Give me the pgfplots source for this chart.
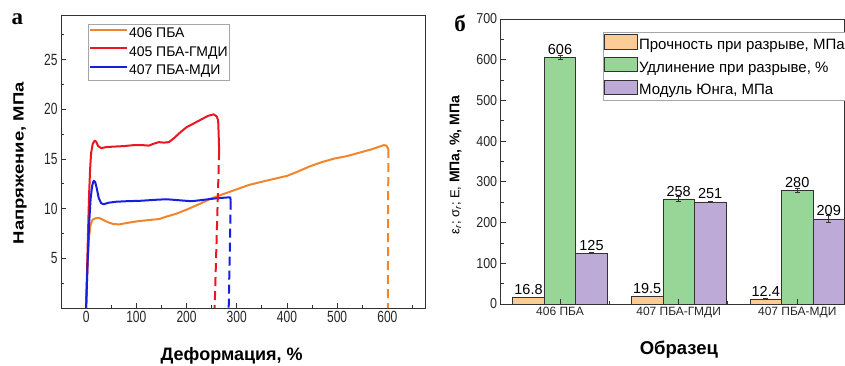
\documentclass[border=0pt]{standalone}
\usepackage{pgfplots}
\pgfplotsset{compat=1.18}
\usepackage{pgfplotstable}
\usepackage{fontspec}
\setmainfont{Liberation Sans}
\newfontfamily\serifbf{Liberation Serif}
\usepackage{graphicx}

\definecolor{cOr}{RGB}{242,133,44}
\definecolor{cRed}{RGB}{236,22,32}
\definecolor{cBlue}{RGB}{22,30,226}
\definecolor{bOr}{RGB}{253,203,150}
\definecolor{bGr}{RGB}{152,214,152}
\definecolor{bPu}{RGB}{190,170,214}
\definecolor{frm}{RGB}{50,50,50}

\pgfplotstableread{
x y e lab
0 16.8 0.4 16.8
1 19.5 0.4 19.5
2 12.4 0.4 12.4
}\tOr
\pgfplotstableread{
x y e lab
0 606 4 606
1 258 6 258
2 280 5 280
}\tGr
\pgfplotstableread{
x y e lab
0 125 1 125
1 251 2 251
2 209 8 209
}\tPu

\begin{document}
\begin{tikzpicture}
\useasboundingbox (0,0) rectangle (845pt,365pt);

\node[anchor=base, font=\serifbf\bfseries\fontsize{23}{23}\selectfont] at (17.5pt,340pt) {а};
\node[anchor=base, font=\serifbf\bfseries\fontsize{23}{23}\selectfont] at (460pt,333pt) {б};

% ---------------- left panel
\begin{axis}[
  at={(61pt,57pt)}, anchor=south west,
  scale only axis, width=364pt, height=293pt,
  xmin=-50, xmax=675, ymin=0, ymax=29.5,
  axis line style={frm, line width=0.9pt},
  xtick={0,100,...,600}, minor xtick={-50,50,...,650},
  ytick={5,10,15,20,25}, minor ytick={2.5,7.5,...,27.5},
  tick pos=left, tick align=inside,
  major tick length=5pt, minor tick length=3pt,
  tick style={frm, line width=0.8pt},
  /pgf/number format/assume math mode=true,
  xticklabel={\scalebox{1}[1.35]{\pgfmathprintnumber{\tick}}},
  yticklabel={\scalebox{1}[1.35]{\pgfmathprintnumber{\tick}}},
  tick label style={font=\fontsize{12}{12}\selectfont, text=black!85},
  xlabel={Деформация, \%},
  xlabel style={font=\bfseries\fontsize{18}{18}\selectfont, at={(axis description cs:0.469,0)}, anchor=base, yshift=-52.5pt},
  ylabel={\scalebox{1}[0.8]{Напряжение, МПа}},
  ylabel style={font=\bfseries\fontsize{18.5}{18.5}\selectfont, at={(axis description cs:-0.1126,0.494)}, anchor=center},
  legend style={at={(rel axis cs:0.0734,0.969)}, anchor=north west, draw=gray!70, line width=0.6pt,
    font=\fontsize{14}{16}\selectfont, nodes={inner xsep=1pt, inner ysep=0pt, text height=10.5pt, text depth=3pt},
    row sep=5.3pt, inner xsep=1pt, inner ysep=2.5pt},
  legend cell align=left,
  legend image code/.code={\draw[#1, line width=2pt] (0pt,4pt) -- (37pt,4pt);},
]
\addplot[cOr, line width=2pt, line join=round] coordinates {(0,0) (2,3) (4,5.5) (6,7.2) (9,8.4) (13,8.9) (20,9.05) (27,9.05) (35,8.85) (45,8.6) (55,8.45) (66,8.42) (80,8.55) (100,8.72) (130,8.88) (145,8.95) (160,9.2) (180,9.5) (200,9.9) (225,10.45) (250,11.05) (275,11.5) (300,11.95) (325,12.4) (345,12.65) (370,12.95) (400,13.3) (420,13.7) (445,14.25) (470,14.7) (495,15.05) (520,15.3) (545,15.65) (570,16.0) (593,16.4) (598,16.35) (602,16.0)};
\addlegendentry{406 ПБА}
\addplot[cRed, line width=2pt, line join=round] coordinates {(0,0) (2,4) (4,8) (6,11.5) (8,14) (10,15.6) (13,16.5) (17,16.85) (20,16.75) (24,16.3) (30,16.1) (40,16.2) (55,16.25) (75,16.3) (95,16.4) (112,16.4) (125,16.35) (135,16.55) (145,16.7) (155,16.65) (165,16.7) (175,17.1) (188,17.7) (200,18.2) (215,18.6) (230,19.0) (243,19.35) (254,19.5) (260,19.3) (263,18.9) (264,17.5) (265,15.8)};
\addlegendentry{405 ПБА-ГМДИ}
\addplot[cBlue, line width=2pt, line join=round] coordinates {(0,0) (3,4.5) (6,8.5) (9,11) (12,12.3) (15,12.8) (18,12.7) (21,12.1) (25,11.1) (30,10.55) (35,10.45) (45,10.6) (60,10.7) (80,10.75) (110,10.8) (140,10.9) (160,10.95) (185,10.85) (210,10.75) (235,10.9) (260,11.05) (287,11.15) (288,10.8)};
\addlegendentry{407 ПБА-МДИ}
\addplot[cOr, line width=2pt, dash pattern=on 9pt off 5pt, forget plot] coordinates {(602,16.0) (601,0)};
\addplot[cRed, line width=2pt, dash pattern=on 9pt off 5pt, forget plot] coordinates {(265,15.8) (256,0)};
\addplot[cBlue, line width=2pt, dash pattern=on 9pt off 5pt, forget plot] coordinates {(288,10.8) (284,0)};
\end{axis}

% ---------------- right panel
\begin{axis}[
  at={(500.7pt,61pt)}, anchor=south west,
  scale only axis, width=344pt, height=285pt,
  xmin=-0.5, xmax=2.4, ymin=0, ymax=700,
  ybar=0pt, bar width=31.5pt,
  axis on top,
  axis line style={frm, line width=0.9pt},
  xtick={0,1,2}, xticklabels={406 ПБА, 407 ПБА-ГМДИ, 407 ПБА-МДИ},
  minor xtick={0.415,1.415},
  ytick={0,100,...,700}, minor ytick={50,150,...,650},
  tick pos=left, tick align=inside,
  major tick length=5pt, minor tick length=3pt,
  tick style={frm, line width=0.8pt},
  /pgf/number format/assume math mode=true,
  yticklabel={\scalebox{1}[1.15]{\pgfmathprintnumber{\tick}}},
  yticklabel style={font=\fontsize{12.5}{12.5}\selectfont, text=black!85},
  xticklabel style={font=\fontsize{12}{12}\selectfont, text=black!85},
  xlabel={Образец},
  xlabel style={font=\bfseries\fontsize{18.5}{18.5}\selectfont, at={(axis description cs:0.518,0)}, anchor=base, yshift=-50.7pt},
  ylabel={ε\textsubscript{\itshape r}; σ\textsubscript{\itshape r}; E, {\bfseries\fontsize{14}{14}\selectfont МПа, \%, МПа}},
  ylabel style={font=\fontsize{13}{13}\selectfont, at={(axis description cs:-0.131,0.488)}, anchor=center},
  legend style={at={(rel axis cs:0.2965,0.955)}, anchor=north west, draw=gray!70, line width=0.6pt,
    font=\fontsize{15}{17}\selectfont, nodes={inner xsep=1.5pt, inner ysep=0pt, text height=10.5pt, text depth=3pt},
    row sep=4.8pt, inner xsep=1pt, inner ysep=2pt},
  legend cell align=left,
  legend image code/.code={\draw[#1, draw=frm, line width=0.6pt] (0pt,-3.5pt) rectangle (33pt,11pt);},
  point meta=explicit symbolic,
  nodes near coords,
  nodes near coords style={font=\fontsize{14.5}{14.5}\selectfont, inner sep=1pt, anchor=south, yshift=1.5pt, text=black},
  error bars/y dir=both, error bars/y explicit,
  error bars/error bar style={black!80, line width=0.6pt},
  error bars/error mark options={rotate=90, mark size=2.5pt, black!80, line width=0.6pt},
]
\addplot[fill=bOr, draw=frm, line width=0.6pt] table[x=x, y=y, y error=e, meta=lab] {\tOr};
\addlegendentry{Прочность при разрыве, МПа}
\addplot[fill=bGr, draw=frm, line width=0.6pt] table[x=x, y=y, y error=e, meta=lab] {\tGr};
\addlegendentry{Удлинение при разрыве, \%}
\addplot[fill=bPu, draw=frm, line width=0.6pt] table[x=x, y=y, y error=e, meta=lab] {\tPu};
\addlegendentry{Модуль Юнга, МПа}
\end{axis}
\end{tikzpicture}
\end{document}
